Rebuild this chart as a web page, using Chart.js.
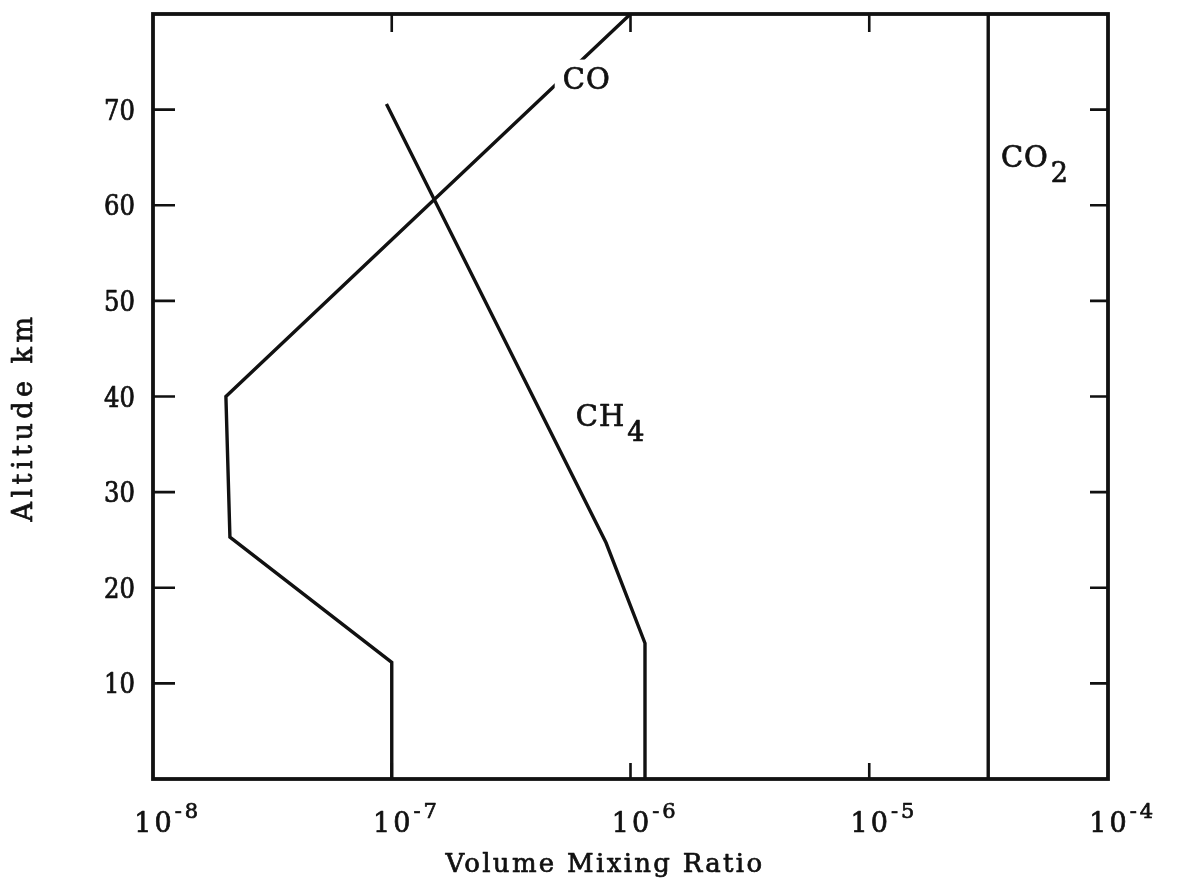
<!DOCTYPE html>
<html>
<head>
<meta charset="utf-8">
<title>Volume mixing ratio profiles</title>
<script src="https://cdn.jsdelivr.net/npm/chart.js@4"></script>
<style>
  html, body { margin: 0; padding: 0; background: #fff; }
</style>
</head>
<body>
<canvas id="chart" width="1180" height="893"></canvas>
<script>
"use strict";

// profiles: mixing ratio vs altitude (km)
const coRatio = [1e-7, 1e-7, 2.1e-8, 2.02e-8, 1e-6];
const coAlt = [0, 12.2, 25.3, 40, 80];
const ch4Ratio = [1.15e-6, 1.15e-6, 7.9e-7, 9.5e-8];
const ch4Alt = [0, 14.2, 24.7, 70.6];
const co2Ratio = [3.15e-5, 3.15e-5];
const co2Alt = [0, 80];

// axes
const xTicks = [1e-8, 1e-7, 1e-6, 1e-5, 1e-4];
const xExponents = ["-8", "-7", "-6", "-5", "-4"];
const yTicks = [10, 20, 30, 40, 50, 60, 70];

// curve labels: text, subscript, anchor (ratio, km)
const curveLabels = [
  { text: "CO", sub: "", x: 5.2e-7, y: 72.2, knockout: true },
  { text: "CH", sub: "4", x: 5.9e-7, y: 36.9, knockout: false },
  { text: "CO", sub: "2", x: 3.56e-5, y: 64.0, knockout: false },
];

const SERIF = '"DejaVu Serif", "Liberation Serif", serif';
const SERIF_NARROW = '"DejaVu Serif Condensed", "DejaVu Serif", serif';
const INK = "#111";

function points(xs, ys) {
  return xs.map((x, i) => ({ x: x, y: ys[i] }));
}

function line(data) {
  return {
    data: data,
    showLine: true,
    borderColor: INK,
    borderWidth: 3.4,
    pointRadius: 0,
    tension: 0,
  };
}

// filled text with a thin outline so it reads as heavy print
function ink(ctx, str, x, y) {
  ctx.fillText(str, x, y);
  ctx.strokeText(str, x, y);
}

const decorations = {
  id: "decorations",
  afterDatasetsDraw(chart) {
    const ctx = chart.ctx;
    const a = chart.chartArea;
    const sx = chart.scales.x;
    const sy = chart.scales.y;

    ctx.save();
    ctx.fillStyle = INK;
    ctx.strokeStyle = INK;

    // frame
    ctx.lineWidth = 3.8;
    ctx.strokeRect(a.left, a.top, a.right - a.left, a.bottom - a.top);

    // inward tick marks
    ctx.lineWidth = 2.6;
    ctx.beginPath();
    yTicks.forEach((v) => {
      const py = sy.getPixelForValue(v);
      ctx.moveTo(a.left, py);
      ctx.lineTo(a.left + 22, py);
      ctx.moveTo(a.right, py);
      ctx.lineTo(a.right - 18, py);
    });
    xTicks.slice(1, -1).forEach((v) => {
      const px = sx.getPixelForValue(v);
      ctx.moveTo(px, a.top);
      ctx.lineTo(px, a.top + 18);
      ctx.moveTo(px, a.bottom);
      ctx.lineTo(px, a.bottom - 16);
    });
    ctx.stroke();

    ctx.lineWidth = 0.7;
    ctx.lineJoin = "round";

    // curve labels
    curveLabels.forEach((l) => {
      const px = sx.getPixelForValue(l.x);
      const py = sy.getPixelForValue(l.y);
      ctx.font = "29px " + SERIF;
      ctx.letterSpacing = "1px";
      ctx.textAlign = "left";
      ctx.textBaseline = "alphabetic";
      const w = ctx.measureText(l.text).width;
      if (l.knockout) {
        ctx.fillStyle = "#fff";
        ctx.fillRect(px - 8, py - 29, w + 10, 34);
        ctx.fillStyle = INK;
      }
      ink(ctx, l.text, px, py);
      if (l.sub) {
        ctx.font = "27px " + SERIF;
        ink(ctx, l.sub, px + w + 2, py + 15);
      }
    });

    // y tick labels
    ctx.font = "27px " + SERIF_NARROW;
    ctx.letterSpacing = "0px";
    ctx.textAlign = "right";
    ctx.textBaseline = "middle";
    yTicks.forEach((v) => {
      ink(ctx, String(v), a.left - 18, sy.getPixelForValue(v) + 3);
    });

    // x tick labels: 10 with raised exponent
    ctx.textAlign = "left";
    ctx.textBaseline = "alphabetic";
    xTicks.forEach((v, i) => {
      const px = sx.getPixelForValue(v);
      ctx.font = "27px " + SERIF;
      ctx.letterSpacing = "3px";
      const w = ctx.measureText("10").width - 3;
      ink(ctx, "10", px - w / 2, a.bottom + 53);
      ctx.font = "21px " + SERIF;
      ctx.letterSpacing = "3px";
      ink(ctx, xExponents[i], px + w / 2 + 3, a.bottom + 39);
    });

    // axis titles
    ctx.font = "26px " + SERIF;
    ctx.letterSpacing = "2.3px";
    ctx.textAlign = "center";
    ink(ctx, "Volume Mixing Ratio", 605, a.bottom + 93);

    ctx.save();
    ctx.translate(32, 417);
    ctx.rotate(-Math.PI / 2);
    ctx.font = "27px " + SERIF;
    ctx.letterSpacing = "4.5px";
    ink(ctx, "Altitude km", 0, 0);
    ctx.restore();

    ctx.restore();
  },
};

new Chart(document.getElementById("chart").getContext("2d"), {
  type: "scatter",
  data: {
    datasets: [
      line(points(coRatio, coAlt)),
      line(points(ch4Ratio, ch4Alt)),
      line(points(co2Ratio, co2Alt)),
    ],
  },
  options: {
    responsive: false,
    animation: false,
    layout: { padding: { left: 153, top: 14, right: 72, bottom: 114 } },
    plugins: { legend: { display: false }, tooltip: { enabled: false } },
    scales: {
      x: { type: "logarithmic", min: 1e-8, max: 1e-4, display: false },
      y: { type: "linear", min: 0, max: 80, display: false },
    },
  },
  plugins: [decorations],
});
</script>
</body>
</html>
